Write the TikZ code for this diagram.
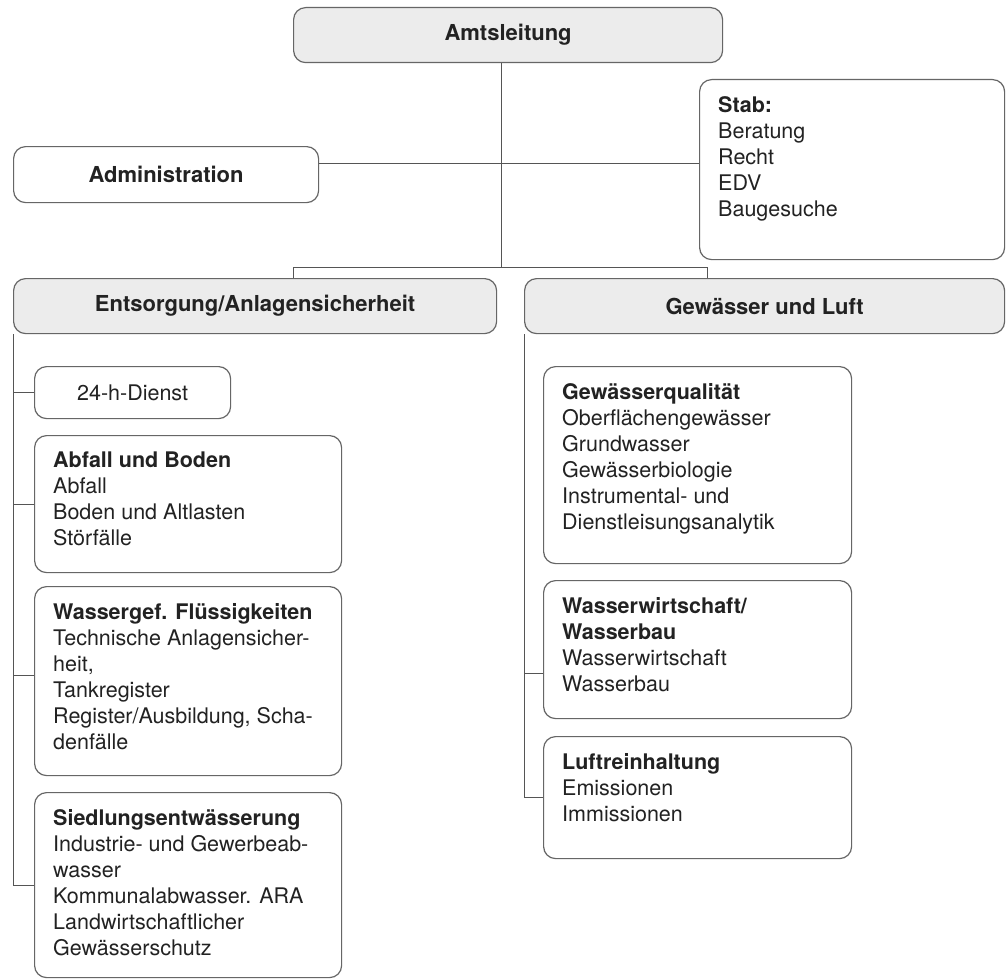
\documentclass[tikz,border=0pt]{standalone}
\usepackage{fontspec}
\setmainfont{TeX Gyre Heros}
\usepackage{xcolor}
\usepackage{tikz}
\definecolor{ink}{HTML}{222222}
\definecolor{frame}{HTML}{666666}
\definecolor{wire}{HTML}{555555}
\definecolor{headfill}{HTML}{ECECEC}
\tikzset{
  font=\fontsize{21.5}{26}\selectfont,
  unit/.style={
    rounded corners=12pt, draw=frame, line width=1.2pt, fill=white,
    text=ink, anchor=north west, inner sep=0pt
  },
  headunit/.style={unit, fill=headfill, font=\fontsize{22}{26}\selectfont\bfseries},
  unittext/.style={anchor=north west, align=left, text=ink, inner xsep=19pt, inner ysep=17pt},
  link/.style={draw=wire, line width=0.9pt}
}

\begin{document}
\begin{tikzpicture}[x=1pt,y=-1pt]
  \useasboundingbox (0,0) rectangle (1006,979);
  \fill[white] (0,0) rectangle (1006,979);

  % top level
  \node[headunit, minimum width=429pt, minimum height=55pt] (amt) at (293,7) {Amtsleitung};
  \node[unit, minimum width=305pt, minimum height=56pt, font=\fontsize{22}{26}\selectfont\bfseries] (adm) at (13,146) {Administration};
  \node[unit, minimum width=305pt, minimum height=180pt] (stab) at (699,79) {};
  \node[unittext] (stab-txt) at (stab.north west) {\textbf{Stab:}\\Beratung\\Recht\\EDV\\Baugesuche};

  % divisions
  \node[headunit, minimum width=483pt, minimum height=55pt] (ent) at (13,278) {Entsorgung/Anlagensicherheit};
  \node[headunit, minimum width=480pt, minimum height=55pt] (gew) at (524,278) {Gewässer und Luft};

  % Entsorgung/Anlagensicherheit
  \node[unit, minimum width=196pt, minimum height=52pt] (dienst) at (34,366) {24-h-Dienst};
  \node[unit, minimum width=307pt, minimum height=137pt] (abf) at (34,435) {};
  \node[unittext] (abf-txt) at (abf.north west) {\textbf{Abfall und Boden}\\Abfall\\Boden und Altlasten\\Störfälle};
  \node[unit, minimum width=307pt, minimum height=189pt] (wgf) at (34,586) {};
  \node[unittext] (wgf-txt) at (wgf.north west) {\textbf{Wassergef. Flüssigkeiten}\\Technische Anlagensicher-\\heit,\\Tankregister\\Register/Ausbildung, Scha-\\denfälle};
  \node[unit, minimum width=307pt, minimum height=185pt] (sied) at (34,792) {};
  \node[unittext] (sied-txt) at (sied.north west) {\textbf{Siedlungsentwässerung}\\Industrie- und Gewerbeab-\\wasser\\Kommunalabwasser. ARA\\Landwirtschaftlicher\\Gewässerschutz};

  % Gewässer und Luft
  \node[unit, minimum width=308pt, minimum height=197pt] (gq) at (543,366) {};
  \node[unittext] (gq-txt) at (gq.north west) {\textbf{Gewässerqualität}\\Oberflächengewässer\\Grundwasser\\Gewässerbiologie\\Instrumental- und\\Dienstleisungsanalytik};
  \node[unit, minimum width=308pt, minimum height=138pt] (ww) at (543,580) {};
  \node[unittext] (ww-txt) at (ww.north west) {\textbf{Wasserwirtschaft/}\\\textbf{Wasserbau}\\Wasserwirtschaft\\Wasserbau};
  \node[unit, minimum width=308pt, minimum height=122pt] (luft) at (543,736) {};
  \node[unittext] (luft-txt) at (luft.north west) {\textbf{Luftreinhaltung}\\Emissionen\\Immissionen};

  % connectors
  \coordinate (hub) at (501,267);
  \coordinate (barL) at (293,267);
  \coordinate (barR) at (707,267);
  \coordinate (side) at (0,163);
  \coordinate (wgf-in) at ([yshift=6pt]wgf.west);
  \coordinate (ww-in) at ([yshift=-24pt]ww.west);
  \draw[link] (amt.south -| hub) -- (hub);
  \draw[link] (ent.north -| barL) -- (barL) -- (barR) -- (gew.north -| barR);
  \draw[link] (adm.east |- side) -- (stab.west |- side);

  \draw[link] (ent.south west) -- (ent.south west |- sied.west);
  \draw[link] (ent.south west |- dienst.west) -- (dienst.west);
  \draw[link] (ent.south west |- abf.west) -- (abf.west);
  \draw[link] (ent.south west |- wgf-in) -- (wgf-in);
  \draw[link] (ent.south west |- sied.west) -- (sied.west);

  \draw[link] (gew.south west) -- (gew.south west |- luft.west);
  \draw[link] (gew.south west |- ww-in) -- (ww-in);
  \draw[link] (gew.south west |- luft.west) -- (luft.west);
\end{tikzpicture}
\end{document}
